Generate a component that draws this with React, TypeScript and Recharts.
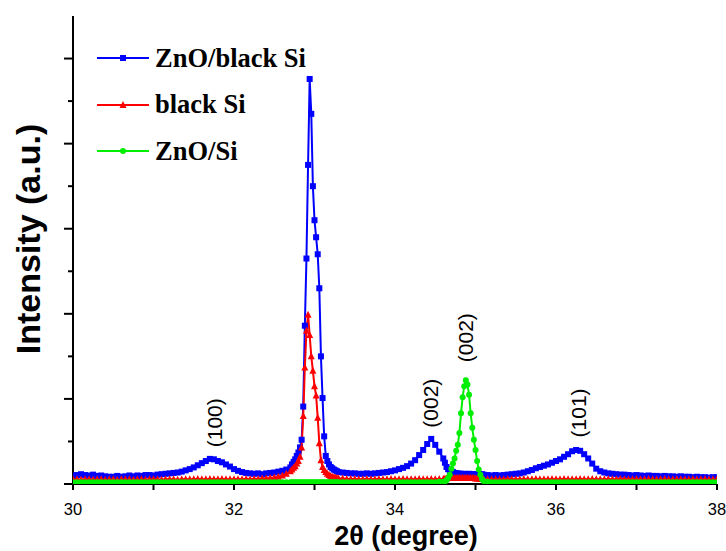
import { Legend, Line, LineChart, ReferenceDot, XAxis, YAxis } from 'recharts';

// 2θ grid: coarse steps on flat background, fine steps across the sharp peaks
const angleSegments: Array<[number, number, number]> = [
    [30, 32.65, 0.05],
    [32.7, 33.28, 0.02],
    [33.3, 34.55, 0.05],
    [34.6, 35.08, 0.02],
    [35.1, 38, 0.05],
];

// ZnO/black Si (blue)
const znoBlackSi = [
    100, 105, 115, 105, 100, 110, 95, 100, 90, 85,
    85, 95, 85, 90, 100, 90, 100, 95, 105, 105,
    100, 110, 115, 120, 125, 130, 135, 145, 160, 175,
    195, 220, 245, 270, 295, 290, 270, 255, 230, 205,
    175, 155, 140, 130, 125, 120, 125, 115, 125, 130,
    135, 145, 155, 170,
    195, 230, 260, 290, 330, 370, 430, 520, 910, 1860,
    2650, 3750, 4760, 4350, 3500, 3100, 2900, 2700, 2300, 1500,
    1010, 560, 330, 270, 230, 200, 185, 170, 160, 150,
    140, 135, 130, 125, 125, 120, 120, 125, 120, 125,
    130, 135, 140, 150, 160, 175, 190, 210, 240, 280,
    340, 400, 470, 530, 460, 380,
    300, 250, 200, 175, 160, 145, 140, 130, 125, 125,
    120, 120, 115, 120, 115, 115, 120, 115, 115, 110,
    115, 110, 115, 110, 115,
    110, 105, 100, 105, 100, 105, 110, 115, 120, 125,
    135, 150, 165, 185, 200, 215, 230, 250, 270, 290,
    320, 350, 385, 400, 390, 350, 300, 240, 180, 150,
    135, 125, 120, 115, 110, 110, 105, 100, 105, 100,
    95, 100, 95, 95, 90, 95, 90, 90, 85, 90,
    85, 85, 80, 85, 80, 80, 75, 80, 80,
];

// black Si (red)
const blackSi = [
    55, 55, 50, 55, 55, 50, 55, 55, 50, 55,
    55, 50, 55, 55, 55, 50, 55, 55, 50, 55,
    55, 55, 50, 55, 55, 55, 50, 55, 55, 55,
    55, 60, 55, 55, 60, 55, 55, 60, 55, 55,
    55, 55, 55, 60, 55, 60, 60, 65, 65, 70,
    75, 85, 100, 120,
    150, 170, 190, 210, 240, 270, 320, 430, 800, 1370,
    1800, 1990, 1750, 1500, 1330, 1150, 1040, 780, 480, 280,
    200, 165, 140, 120, 105, 95, 85, 80, 75, 70,
    65, 65, 60, 60, 60, 55, 55, 60, 55, 55,
    60, 55, 55, 60, 55, 55, 60, 55, 55, 55,
    60, 55, 55, 60, 55, 60,
    60, 65, 65, 70, 70, 70, 70, 70, 70, 70,
    70, 70, 70, 70, 70, 70, 70, 70, 70, 70,
    65, 65, 65, 60, 60,
    60, 55, 55, 60, 55, 55, 60, 55, 55, 55,
    60, 55, 55, 60, 55, 55, 55, 60, 55, 55,
    60, 55, 55, 55, 60, 55, 55, 60, 55, 55,
    55, 60, 55, 55, 60, 55, 55, 55, 60, 55,
    55, 60, 55, 55, 55, 60, 55, 55, 60, 55,
    55, 55, 60, 55, 55, 60, 55, 55, 60,
];

// ZnO/Si (green)
const znoSi = [
    20, 20, 20, 20, 20, 20, 20, 20, 20, 20,
    20, 20, 20, 20, 20, 20, 20, 20, 20, 20,
    20, 20, 20, 20, 20, 20, 20, 20, 20, 20,
    20, 20, 20, 20, 20, 20, 20, 20, 20, 20,
    20, 20, 20, 20, 20, 20, 20, 20, 20, 20,
    20, 20, 20, 20,
    20, 20, 20, 20, 20, 20, 20, 20, 20, 20,
    20, 20, 20, 20, 20, 20, 20, 20, 20, 20,
    20, 20, 20, 20, 20, 20, 20, 20, 20, 20,
    20, 20, 20, 20, 20, 20, 20, 20, 20, 20,
    20, 20, 20, 20, 20, 20, 20, 20, 20, 20,
    20, 20, 20, 20, 22, 25,
    25, 30, 45, 70, 110, 180, 240, 300, 390, 460,
    600, 830, 1020, 1150, 1220, 1170, 1050, 830, 660, 520,
    400, 270, 170, 110, 60,
    35, 25, 20, 20, 20, 20, 20, 20, 20, 20,
    20, 20, 20, 20, 20, 20, 20, 20, 20, 20,
    20, 20, 20, 20, 20, 20, 20, 20, 20, 20,
    20, 20, 20, 20, 20, 20, 20, 20, 20, 20,
    20, 20, 20, 20, 20, 20, 20, 20, 20, 20,
    20, 20, 20, 20, 20, 20, 20, 20, 20,
];

const xTicks = [30, 31, 32, 33, 34, 35, 36, 37, 38];
const yTicks = [0, 500, 1000, 1500, 2000, 2500, 3000, 3500, 4000, 4500, 5000];

const peakLabels = [
    { text: '(100)', angle: 31.76, level: 720 },
    { text: '(002)', angle: 34.44, level: 950 },
    { text: '(002)', angle: 34.87, level: 1720 },
    { text: '(101)', angle: 36.28, level: 835 },
];

const angles = angleSegments.flatMap(([start, end, step]) => {
    const n = Math.round((end - start) / step);
    return Array.from({ length: n + 1 }, (_, i) => +(start + i * step).toFixed(2));
});

const data = angles.map((angle, i) => ({
    angle,
    znoBlackSi: znoBlackSi[i],
    blackSi: blackSi[i],
    znoSi: znoSi[i],
}));

const SANS = 'Arial, "Liberation Sans", sans-serif';
const SERIF = '"Times New Roman", "Liberation Serif", serif';

const BLUE = '#0000ff';
const RED = '#ff0000';
const GREEN = '#00ee00';

const square = (color: string, s = 6) => (p: any) => (
    <rect key={p.index} x={p.cx - s / 2} y={p.cy - s / 2} width={s} height={s} fill={color} />
);
const triangle = (color: string) => (p: any) => (
    <polygon
        key={p.index}
        points={`${p.cx},${p.cy - 4} ${p.cx - 3.5},${p.cy + 3} ${p.cx + 3.5},${p.cy + 3}`}
        fill={color}
    />
);
const circle = (color: string) => (p: any) => (
    <circle key={p.index} cx={p.cx} cy={p.cy} r={3} fill={color} />
);

const series = [
    { key: 'znoBlackSi', name: 'ZnO/black Si', color: BLUE, dot: (c: string) => square(c) },
    { key: 'blackSi', name: 'black Si', color: RED, dot: triangle },
    { key: 'znoSi', name: 'ZnO/Si', color: GREEN, dot: circle },
];

const YTick = (p: any) => {
    const major = p.payload.value % 1000 === 0;
    return <line x1={p.x - (major ? 9 : 5)} x2={p.x} y1={p.y} y2={p.y} stroke='#000' strokeWidth={2} />;
};

const XTick = (p: any) => {
    const major = p.payload.value % 2 === 0;
    return (
        <g>
            <line x1={p.x} x2={p.x} y1={p.y} y2={p.y + 6} stroke='#000' strokeWidth={2} />
            {major && (
                <text x={p.x} y={p.y + 31} textAnchor='middle' fontFamily={SANS} fontSize={16.5} fill='#000'>
                    {p.payload.value}
                </text>
            )}
        </g>
    );
};

const LegendBox = () => (
    <div>
        {series.map((s) => (
            <div key={s.key} style={{ display: 'flex', alignItems: 'center', height: 46.5 }}>
                <svg width={52} height={12}>
                    <line x1={0} x2={52} y1={6} y2={6} stroke={s.color} strokeWidth={2} />
                    {s.dot(s.color)({ cx: 26, cy: 6, index: 0 })}
                </svg>
                <span
                    style={{
                        marginLeft: 6,
                        fontFamily: SERIF,
                        fontWeight: 'bold',
                        fontSize: 26.5,
                        color: '#000',
                        whiteSpace: 'nowrap',
                    }}
                >
                    {s.name}
                </span>
            </div>
        ))}
    </div>
);

export default function App() {
    return (
        <div style={{ position: 'absolute', left: 0, top: 0, width: 726, height: 551, background: '#fff' }}>
            <LineChart width={726} height={551} data={data} margin={{ top: 16, right: 9, bottom: 0, left: 0 }}>
                <XAxis
                    dataKey='angle'
                    type='number'
                    domain={[30, 38]}
                    ticks={xTicks}
                    height={67}
                    tickSize={0}
                    tickMargin={0}
                    tickLine={false}
                    tick={<XTick />}
                    axisLine={{ stroke: '#000', strokeWidth: 2 }}
                    allowDataOverflow
                    label={{
                        content: (p: any) => (
                            <text
                                x={p.viewBox.x + p.viewBox.width / 2 + 11}
                                y={p.viewBox.y + 61}
                                textAnchor='middle'
                                fontFamily={SANS}
                                fontWeight='bold'
                                fontSize={27}
                                fill='#000'
                            >
                                2θ (degree)
                            </text>
                        ),
                    }}
                />
                <XAxis
                    xAxisId='top'
                    orientation='top'
                    dataKey='angle'
                    type='number'
                    domain={[30, 38]}
                    height={0}
                    tick={false}
                    tickLine={false}
                    axisLine={{ stroke: '#000', strokeWidth: 2 }}
                />
                <YAxis
                    type='number'
                    domain={[0, 5500]}
                    ticks={yTicks}
                    width={73}
                    tickSize={0}
                    tickMargin={0}
                    tickLine={false}
                    tick={<YTick />}
                    axisLine={{ stroke: '#000', strokeWidth: 2 }}
                    allowDataOverflow
                    label={{
                        content: (p: any) => {
                            const cx = p.viewBox.x + 40;
                            const cy = p.viewBox.y + p.viewBox.height / 2 - 11;
                            return (
                                <text
                                    x={cx}
                                    y={cy}
                                    transform={`rotate(-90 ${cx} ${cy})`}
                                    textAnchor='middle'
                                    fontFamily={SANS}
                                    fontWeight='bold'
                                    fontSize={34}
                                    fill='#000'
                                >
                                    Intensity (a.u.)
                                </text>
                            );
                        },
                    }}
                />
                <YAxis
                    yAxisId='right'
                    orientation='right'
                    type='number'
                    domain={[0, 5500]}
                    width={0}
                    tick={false}
                    tickLine={false}
                    axisLine={{ stroke: '#000', strokeWidth: 2 }}
                />
                {series.map((s) => (
                    <Line
                        key={s.key}
                        dataKey={s.key}
                        name={s.name}
                        type='linear'
                        stroke={s.color}
                        strokeWidth={2}
                        dot={s.dot(s.color)}
                        activeDot={false}
                        isAnimationActive={false}
                    />
                ))}
                {peakLabels.map((l, i) => (
                    <ReferenceDot
                        key={i}
                        x={l.angle}
                        y={l.level}
                        r={0}
                        stroke='none'
                        fill='none'
                        label={{
                            content: (p: any) => {
                                const cx = p.viewBox.x + p.viewBox.width / 2;
                                const cy = p.viewBox.y + p.viewBox.height / 2;
                                return (
                                    <text
                                        x={cx}
                                        y={cy}
                                        transform={`rotate(-90 ${cx} ${cy})`}
                                        textAnchor='middle'
                                        dominantBaseline='central'
                                        fontFamily={SANS}
                                        fontSize={21}
                                        fill='#000'
                                    >
                                        {l.text}
                                    </text>
                                );
                            },
                        }}
                    />
                ))}
                <Legend
                    layout='vertical'
                    align='center'
                    verticalAlign='middle'
                    content={() => <LegendBox />}
                    wrapperStyle={{ left: 97, top: 35, width: 280, height: 140 }}
                />
            </LineChart>
        </div>
    );
}
